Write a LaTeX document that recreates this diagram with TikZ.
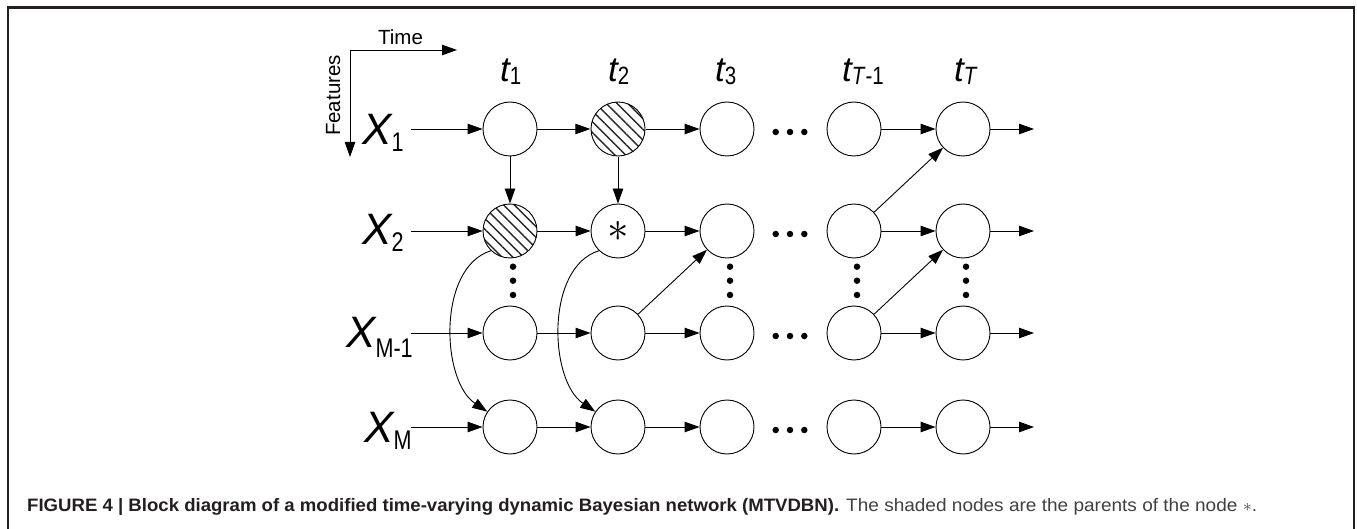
\documentclass[tikz,border=0pt]{standalone}
\usepackage{fontspec}
\setmainfont{Liberation Sans}
\usetikzlibrary{arrows.meta,patterns.meta}
\definecolor{framec}{HTML}{231F20}
\newcommand\Xlab[2][-7pt]{{\fontsize{44}{44}\selectfont\itshape X}\raisebox{#1}{\scalebox{0.8}[1]{\fontsize{27}{27}\selectfont #2}}}
\newcommand\tlab[1]{{\fontsize{35}{35}\selectfont\itshape t}\raisebox{-3pt}{\scalebox{0.82}[1]{\fontsize{25}{25}\selectfont #1}}}
\begin{document}
\begin{tikzpicture}[x=1pt,y=1pt,
  state/.style={circle,draw,line width=0.9pt,minimum size=54pt,inner sep=0pt},
  hatched/.style={state,pattern={Lines[angle=-45,distance=7.6pt,line width=1.4pt]},pattern color=black!85},
  arr/.style={line width=0.9pt,-{Triangle[length=15pt,width=10.5pt]}},
  dot/.style={circle,fill,inner sep=0pt,minimum size=6.5pt},
  lab/.style={anchor=base west,inner sep=0pt},
]
\useasboundingbox (0,0) rectangle (1357,-529);
% frame
\draw[framec,line width=2.3pt] (8.3,-529) -- (8.3,-7.5) -- (1353.7,-7.5) -- (1353.7,-529);

% axes
\coordinate (o) at (350,-50);
\coordinate (tx) at (457,-50);
\coordinate (fy) at (350,-157);
\draw[arr] (o) -- (tx);
\draw[arr] (o) -- (fy);
\node[anchor=base,inner sep=0pt,font=\fontsize{20.5}{20.5}\selectfont] (time) at (400.5,-44.3) {Time};
\node[anchor=base,inner sep=0pt,rotate=90,font=\fontsize{20.5}{20.5}\selectfont] (feat) at (340,-95.5) {Features};

% time labels
\node[lab] (t1) at (500,-82) {\tlab{1}};
\node[lab] (t2) at (608,-82) {\tlab{2}};
\node[lab] (t3) at (715,-82) {\tlab{3}};
\node[lab] (t4) at (842,-82) {\tlab{\textit{T}-1}};
\node[lab] (t5) at (954,-82) {\tlab{\textit{T}}};

% feature labels
\node[lab] (x1) at (362,-145) {\Xlab{1}};
\node[lab] (x2) at (362,-245) {\Xlab{2}};
\node[lab] (x3) at (346,-347) {\Xlab[-10pt]{M-1}};
\node[lab] (x4) at (364,-442) {\Xlab{M}};

% nodes
\node[state]   (n11) at (510,-129) {};
\node[hatched] (n12) at (618,-129) {};
\node[state]   (n13) at (727,-129) {};
\node[state]   (n14) at (854,-129) {};
\node[state]   (n15) at (963,-129) {};
\node[hatched] (n21) at (510,-231) {};
\node[state]   (n22) at (618,-231) {\scalebox{4.3}{$\ast$}};
\node[state]   (n23) at (727,-231) {};
\node[state]   (n24) at (854,-231) {};
\node[state]   (n25) at (963,-231) {};
\node[state]   (n31) at (510,-333) {};
\node[state]   (n32) at (618,-333) {};
\node[state]   (n33) at (727,-333) {};
\node[state]   (n34) at (854,-333) {};
\node[state]   (n35) at (963,-333) {};
\node[state]   (n41) at (510,-427) {};
\node[state]   (n42) at (618,-427) {};
\node[state]   (n43) at (727,-427) {};
\node[state]   (n44) at (854,-427) {};
\node[state]   (n45) at (963,-427) {};

% row arrows
\foreach \r/\y in {1/129,2/231,3/333,4/427}{
  \coordinate (s\r) at (411,-\y);
  \coordinate (e\r) at (1034,-\y);
  \draw[arr] (s\r) -- (n\r1);
  \draw[arr] (n\r1) -- (n\r2);
  \draw[arr] (n\r2) -- (n\r3);
  \draw[arr] (n\r4) -- (n\r5);
  \draw[arr] (n\r5) -- (e\r);
  \foreach \x in {775.7,790,804.3}{\node[dot] at (\x,-\y-3) {};}
}
% vertical dots
\foreach \x in {513,730,857,966}{
  \foreach \y in {266.7,280.7,295}{\node[dot] at (\x,-\y) {};}
}
% vertical and diagonal arrows
\draw[arr] (n11) -- (n21);
\draw[arr] (n12) -- (n22);
\draw[arr] (n32) -- (n23);
\draw[arr] (n24) -- (n15);
\draw[arr] (n34) -- (n25);
% curved arrows
\draw[arr] (n21.226) .. controls +(197:56) and +(146:56) .. (n41.146);
\draw[arr] (n22.226) .. controls +(197:56) and +(146:56) .. (n42.146);

% caption
\node[anchor=base west,inner sep=0pt,text=framec] (capb) at (27,-511)
  {\resizebox{812pt}{\height}{\fontsize{18}{18}\selectfont\bfseries FIGURE 4 | Block diagram of a modified time-varying dynamic Bayesian network (MTVDBN).}};
\node[anchor=base west,inner sep=0pt,text=black!75] (capr) at (846,-511)
  {\resizebox{411pt}{\height}{\fontsize{18}{18}\selectfont The shaded nodes are the parents of the node $\ast$.}};
\end{tikzpicture}
\end{document}
